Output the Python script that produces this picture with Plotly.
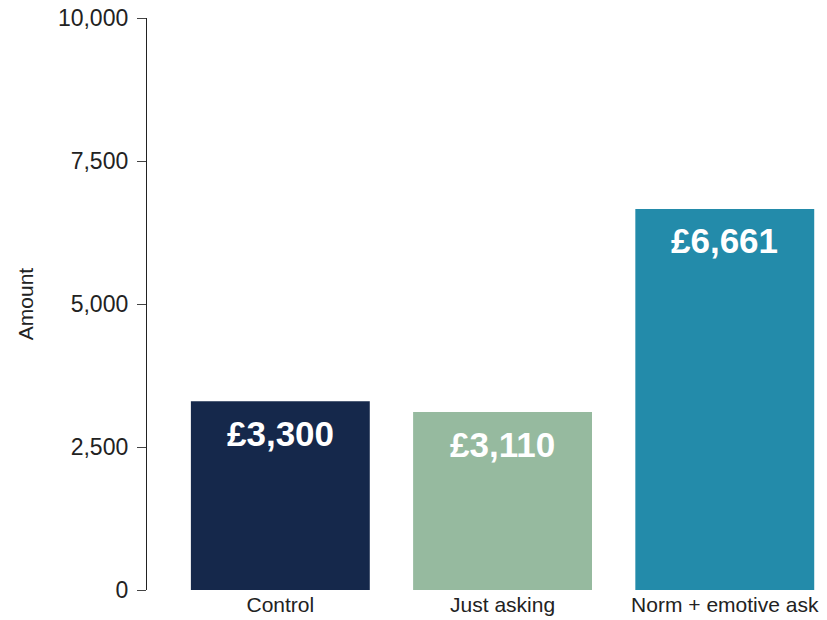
import plotly.graph_objects as go

categories = ["Control", "Just asking", "Norm + emotive ask"]
amounts = [3300, 3110, 6661]
labels = ["£3,300", "£3,110", "£6,661"]
colors = ["#15284b", "#96ba9f", "#238baa"]
y_ticks = [0, 2500, 5000, 7500, 10000]
y_tick_text = ["0", "2,500", "5,000", "7,500", "10,000"]

FONT = "Liberation Sans"

fig = go.Figure()
fig.add_trace(go.Bar(
    x=categories, y=amounts,
    marker=dict(color=colors, line=dict(width=0)),
    width=0.805,
    hoverinfo="skip",
))

for c, v, t in zip(categories, amounts, labels):
    fig.add_annotation(
        x=c, y=v, text="<b>" + t + "</b>", showarrow=False,
        yanchor="middle", yshift=-32,
        font=dict(family=FONT, size=35, color="white"),
    )

fig.update_layout(
    width=827, height=620,
    margin=dict(l=147, r=0, t=18, b=30),
    paper_bgcolor="white", plot_bgcolor="white",
    showlegend=False,
    font=dict(family=FONT, color="#222222"),
    xaxis=dict(
        range=[-0.6, 2.46], showline=False, showgrid=False, ticks="",
        tickfont=dict(size=21, color="#222222"), zeroline=False,
        automargin=False,
    ),
    yaxis=dict(
        range=[0, 10000], tickvals=y_ticks, ticktext=y_tick_text,
        showline=True, linecolor="#222222", linewidth=1.3,
        ticks="outside", ticklen=9, tickcolor="#444444", tickwidth=1.3,
        showgrid=False, zeroline=False,
        tickfont=dict(size=23, color="#222222"),
        ticklabelstandoff=4,
        ticklabeloverflow="allow",
        automargin=False,
        title=dict(text="Amount", font=dict(size=21, color="#222222"), standoff=18),
    ),
)

# remove the page's default 8px body margin so the figure sits at the window's corner
fig.write_html(
    "out.html",
    config={"displayModeBar": False},
    post_script="document.body.style.margin='0';document.body.style.overflow='hidden';",
)
